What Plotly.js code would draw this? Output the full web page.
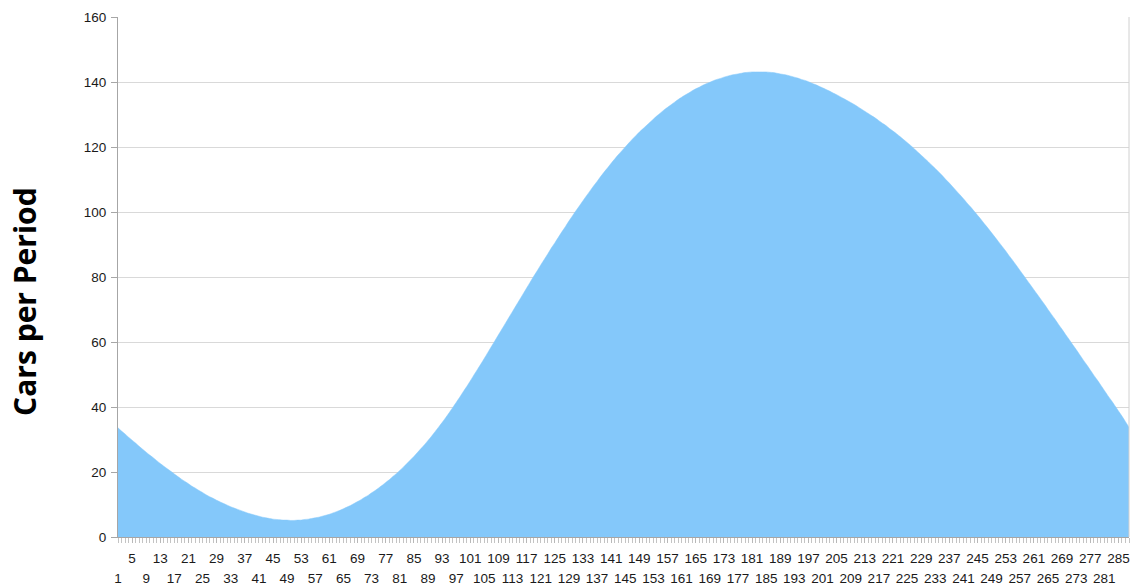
<!DOCTYPE html>
<html>
<head>
<meta charset="utf-8">
<script src="https://cdn.plot.ly/plotly-3.0.1.min.js"></script>
<style>
  html, body { margin: 0; padding: 0; background: #ffffff; }
  #chart { width: 1133px; height: 588px; }
</style>
</head>
<body>
<div id="chart"></div>
<script>
// Period index (categories 1..288)
const periods = [];
for (let i = 1; i <= 288; i++) periods.push(i);

// Cars per period
const carsPerPeriod = [
  33.6, 32.6, 31.7, 30.7, 29.8, 28.9, 27.9, 27.0, 26.1, 25.2,
  24.4, 23.5, 22.6, 21.8, 21.0, 20.2, 19.4, 18.6, 17.8, 17.1,
  16.4, 15.6, 15.0, 14.3, 13.7, 13.0, 12.4, 11.9, 11.3, 10.8,
  10.3, 9.8, 9.3, 8.9, 8.5, 8.1, 7.7, 7.3, 7.0, 6.7,
  6.4, 6.1, 5.9, 5.7, 5.5, 5.4, 5.3, 5.2, 5.2, 5.1,
  5.1, 5.2, 5.2, 5.4, 5.5, 5.7, 5.9, 6.1, 6.4, 6.7,
  7.0, 7.4, 7.8, 8.2, 8.7, 9.2, 9.7, 10.3, 10.9, 11.5,
  12.2, 12.8, 13.6, 14.3, 15.1, 15.9, 16.8, 17.6, 18.6, 19.5,
  20.5, 21.5, 22.6, 23.7, 24.8, 26.0, 27.2, 28.4, 29.7, 31.0,
  32.4, 33.8, 35.2, 36.7, 38.2, 39.8, 41.4, 43.0, 44.7, 46.3,
  48.0, 49.8, 51.5, 53.2, 55.0, 56.8, 58.6, 60.4, 62.2, 64.0,
  65.8, 67.6, 69.4, 71.2, 73.0, 74.8, 76.6, 78.4, 80.2, 81.9,
  83.7, 85.4, 87.1, 88.9, 90.5, 92.2, 93.9, 95.5, 97.2, 98.8,
  100.4, 101.9, 103.5, 105.0, 106.5, 108.0, 109.4, 110.9, 112.3, 113.6,
  115.0, 116.3, 117.6, 118.8, 120.0, 121.2, 122.4, 123.5, 124.6, 125.6,
  126.6, 127.6, 128.6, 129.6, 130.5, 131.4, 132.2, 133.0, 133.8, 134.6,
  135.3, 136.0, 136.6, 137.3, 137.9, 138.4, 139.0, 139.5, 139.9, 140.4,
  140.8, 141.1, 141.5, 141.8, 142.1, 142.3, 142.5, 142.7, 142.9, 143.0,
  143.1, 143.1, 143.1, 143.1, 143.1, 143.0, 142.9, 142.7, 142.5, 142.3,
  142.1, 141.8, 141.5, 141.2, 140.8, 140.5, 140.1, 139.6, 139.2, 138.7,
  138.2, 137.7, 137.2, 136.6, 136.1, 135.5, 134.9, 134.3, 133.7, 133.1,
  132.4, 131.7, 131.0, 130.3, 129.6, 128.9, 128.1, 127.3, 126.6, 125.7,
  124.9, 124.1, 123.2, 122.3, 121.4, 120.5, 119.5, 118.5, 117.5, 116.5,
  115.5, 114.4, 113.4, 112.3, 111.2, 110.0, 108.9, 107.7, 106.5, 105.3,
  104.1, 102.8, 101.6, 100.3, 99.0, 97.7, 96.3, 95.0, 93.6, 92.2,
  90.8, 89.4, 88.0, 86.5, 85.1, 83.6, 82.1, 80.6, 79.1, 77.6,
  76.1, 74.6, 73.1, 71.6, 70.0, 68.5, 67.0, 65.4, 63.9, 62.3,
  60.8, 59.2, 57.7, 56.1, 54.5, 53.0, 51.4, 49.8, 48.3, 46.7,
  45.1, 43.5, 42.0, 40.4, 38.8, 37.2, 35.5, 33.8
];

// Staggered x tick labels (upper row / lower row)
const upperTickLabels = [5, 13, 21, 29, 37, 45, 53, 61, 69, 77, 85, 93, 101, 109, 117, 125, 133, 141,
  149, 157, 165, 173, 181, 189, 197, 205, 213, 221, 229, 237, 245, 253, 261, 269, 277, 285];
const lowerTickLabels = [1, 9, 17, 25, 33, 41, 49, 57, 65, 73, 81, 89, 97, 105, 113, 121, 129, 137,
  145, 153, 161, 169, 177, 185, 193, 201, 209, 217, 225, 233, 241, 249, 257, 265, 273, 281];

const yTicks = [0, 20, 40, 60, 80, 100, 120, 140, 160];
const yAxisTitle = 'Cars per Period';

const tickFont = { family: 'Liberation Sans, Arial, sans-serif', size: 13.5, color: '#1a1a1a' };
const xRange = [periods[0], periods[periods.length - 1]];

const traces = [
  {
    type: 'scatter',
    mode: 'lines',
    x: periods,
    y: carsPerPeriod,
    fill: 'tozeroy',
    fillcolor: '#84C8FA',
    line: { color: '#84C8FA', width: 0.5, shape: 'spline', smoothing: 1, simplify: false },
    hoverinfo: 'x+y',
    xaxis: 'x',
    yaxis: 'y'
  },
  {
    type: 'scatter',
    mode: 'none',
    x: periods,
    y: carsPerPeriod,
    hoverinfo: 'skip',
    showlegend: false,
    xaxis: 'x2',
    yaxis: 'y'
  }
];

const layout = {
  width: 1133,
  height: 588,
  margin: { l: 118, r: 4, t: 17, b: 51, pad: 0 },
  paper_bgcolor: '#ffffff',
  plot_bgcolor: '#ffffff',
  showlegend: false,
  xaxis: {
    type: 'linear',
    range: xRange,
    tickmode: 'array',
    tickvals: upperTickLabels,
    ticktext: upperTickLabels.map(String),
    ticks: 'outside',
    ticklen: 5,
    tickwidth: 1,
    tickcolor: '#b8b8b8',
    ticklabelstandoff: 4,
    showline: true,
    linecolor: '#a6a6a6',
    linewidth: 1,
    showgrid: false,
    zeroline: false,
    tickfont: tickFont,
    tickangle: 0,
    minor: {
      tickmode: 'linear',
      tick0: 1,
      dtick: 1,
      ticks: 'outside',
      ticklen: 5,
      tickwidth: 1,
      tickcolor: '#c4c4c4',
      showgrid: false
    }
  },
  xaxis2: {
    type: 'linear',
    overlaying: 'x',
    anchor: 'y',
    side: 'bottom',
    range: xRange,
    tickmode: 'array',
    tickvals: lowerTickLabels,
    ticktext: lowerTickLabels.map(String),
    ticks: '',
    ticklabelstandoff: 31,
    showline: false,
    showgrid: false,
    zeroline: false,
    tickfont: tickFont,
    tickangle: 0
  },
  yaxis: {
    range: [0, 160],
    tickmode: 'array',
    tickvals: yTicks,
    ticktext: yTicks.map(String),
    ticks: 'outside',
    ticklen: 6,
    tickwidth: 1,
    tickcolor: '#a6a6a6',
    showline: true,
    linecolor: '#a6a6a6',
    linewidth: 1,
    showgrid: true,
    gridcolor: '#d9d9d9',
    gridwidth: 1,
    zeroline: false,
    tickfont: tickFont,
    ticklabelstandoff: 2
  },
  shapes: [
    {
      type: 'line', xref: 'paper', yref: 'paper',
      x0: 1, x1: 1, y0: 0, y1: 1,
      line: { color: '#d0d0d0', width: 1 }
    }
  ],
  annotations: [
    {
      text: yAxisTitle,
      xref: 'paper', yref: 'paper',
      x: -0.092, y: 0.454,
      xanchor: 'center', yanchor: 'middle',
      textangle: -90,
      showarrow: false,
      font: { family: 'Open Sans, Liberation Sans, sans-serif', size: 30, weight: 'bold', color: '#000000' }
    }
  ]
};

Plotly.newPlot('chart', traces, layout, { displayModeBar: false, staticPlot: true });
</script>
</body>
</html>
